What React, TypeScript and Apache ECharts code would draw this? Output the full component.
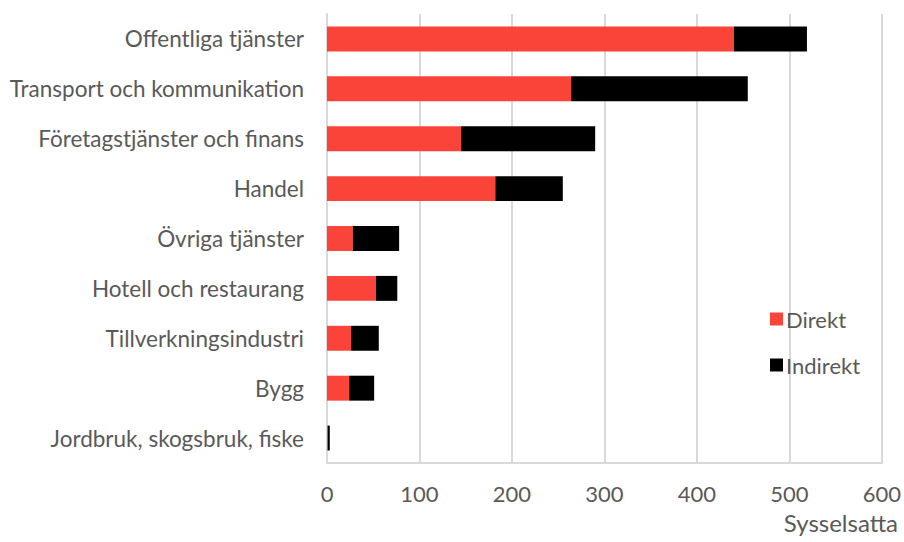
import React, { useEffect, useRef } from "react";
import * as echarts from "echarts";

const categories = [
  "Offentliga tjänster",
  "Transport och kommunikation",
  "Företagstjänster och finans",
  "Handel",
  "Övriga tjänster",
  "Hotell och restaurang",
  "Tillverkningsindustri",
  "Bygg",
  "Jordbruk, skogsbruk, fiske",
];
const direkt = [440, 264, 145, 182, 28, 53, 26, 24, 1];
const indirekt = [79, 191, 145, 73, 50, 23, 30, 27, 2];
const seriesNames = ["Direkt", "Indirekt"];
const axisTitle = "Sysselsatta";

const FONT = "Lato, sans-serif";
const TEXT = "#595959";
const GRID = "#d9d9d9";

export default function App() {
  const ref = useRef<HTMLDivElement>(null);
  useEffect(() => {
    if (!ref.current) return;
    const chart = echarts.init(ref.current, null, { renderer: "svg" });
    chart.setOption({
      animation: false,
      textStyle: { fontFamily: FONT },
      grid: { left: 327, right: 21, top: 14, bottom: 79, containLabel: false },
      legend: {
        orient: "vertical",
        left: 765,
        top: 303,
        itemWidth: 13,
        itemHeight: 13,
        itemGap: 24,
        icon: "rect",
        textStyle: { fontSize: 22, color: TEXT, fontFamily: FONT, padding: [0, 0, 0, -2] },
        data: seriesNames,
      },
      xAxis: {
        type: "value",
        min: 0,
        max: 600,
        interval: 100,
        axisLine: { show: true, lineStyle: { color: GRID, width: 2 } },
        axisTick: { show: false },
        splitLine: { show: true, lineStyle: { color: GRID, width: 2 } },
        axisLabel: { fontSize: 22, color: TEXT, margin: 19, fontFamily: FONT },
      },
      yAxis: {
        type: "category",
        inverse: true,
        data: categories,
        axisLine: { show: true, lineStyle: { color: GRID, width: 2 } },
        axisTick: { show: false },
        axisLabel: { fontSize: 22.5, color: TEXT, margin: 23, fontFamily: FONT },
      },
      graphic: [
        {
          type: "text",
          right: 6,
          top: 510,
          style: { text: axisTitle, font: "24px Lato, sans-serif", fill: TEXT },
        },
      ],
      series: [
        {
          name: seriesNames[0],
          type: "bar",
          stack: "total",
          data: direkt,
          barWidth: "50%",
          itemStyle: { color: "#fa443a" },
        },
        {
          name: seriesNames[1],
          type: "bar",
          stack: "total",
          data: indirekt,
          barWidth: "50%",
          itemStyle: { color: "#000000" },
        },
      ],
    });
    return () => chart.dispose();
  }, []);
  return <div ref={ref} style={{ width: 904, height: 542, position: "absolute", left: 0, top: 0 }} />;
}
